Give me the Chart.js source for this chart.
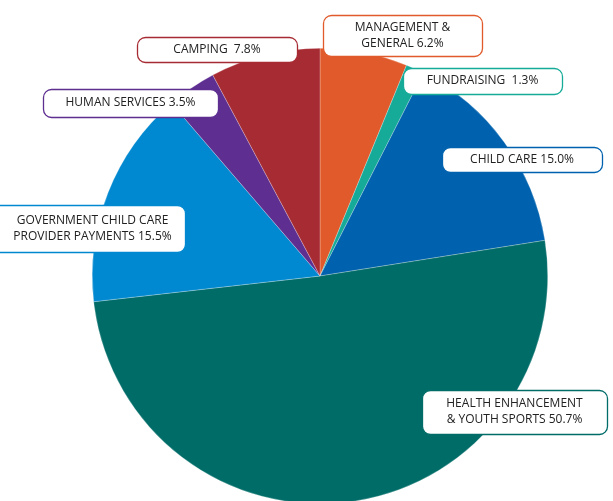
<!DOCTYPE html>
<html lang="en">
<head>
<meta charset="UTF-8">
<title>Expenses</title>
<script src="https://cdn.jsdelivr.net/npm/chart.js"></script>
<style>
  html, body { margin: 0; padding: 0; background: #fff; overflow: hidden; }
  #wrap { width: 613px; height: 504px; position: relative; }
</style>
</head>
<body>
<div id="wrap"><canvas id="pieChart"></canvas></div>
<script>
// slices, clockwise from 12 o'clock
const categories = [
  ["MANAGEMENT &", "GENERAL 6.2%"],
  ["FUNDRAISING  1.3%"],
  ["CHILD CARE 15.0%"],
  ["HEALTH ENHANCEMENT", "& YOUTH SPORTS 50.7%"],
  ["GOVERNMENT CHILD CARE", "PROVIDER PAYMENTS 15.5%"],
  ["HUMAN SERVICES 3.5%"],
  ["CAMPING  7.8%"]
];
const values = [6.2, 1.3, 15.0, 50.7, 15.5, 3.5, 7.8];
const colors = ["#E05A2B", "#16AB98", "#0062AE", "#006C68", "#0089D0", "#5E2E91", "#A72B33"];

// label boxes (left, top, width, height) in page pixels
const boxes = [
  [323, 15, 159, 41],
  [403, 68, 159, 26],
  [442, 147, 160, 25],
  [422, 390, 185, 44],
  [-12, 205, 197, 47],
  [43, 89, 175, 28],
  [137, 37, 160, 25]
];

const labelBoxes = {
  id: "labelBoxes",
  afterDraw(chart) {
    const ctx = chart.ctx;
    ctx.save();
    ctx.font = "12px 'Open Sans'";
    ctx.textAlign = "center";
    ctx.textBaseline = "middle";
    boxes.forEach((b, i) => {
      const [x, y, w, h] = b;
      ctx.beginPath();
      ctx.roundRect(x + 0.5, y + 0.5, w, h, 8);
      ctx.fillStyle = "#fff";
      ctx.fill();
      ctx.lineWidth = 1.3;
      ctx.strokeStyle = colors[i];
      ctx.stroke();
      ctx.fillStyle = "#222";
      const lines = categories[i];
      const lh = 16;
      const cx = x + w / 2 + (x < 0 ? 6 : 0);
      const cy = y + h / 2 - (lines.length - 1) * lh / 2;
      lines.forEach((t, k) => ctx.fillText(t, cx, cy + k * lh));
    });
    ctx.restore();
  }
};

new Chart(document.getElementById("pieChart"), {
  type: "pie",
  data: {
    labels: categories.map(l => l.join(" ")),
    datasets: [{
      data: values,
      backgroundColor: colors,
      borderColor: "rgba(255,255,255,0.5)",
      borderWidth: 0.5
    }]
  },
  options: {
    responsive: true,
    maintainAspectRatio: false,
    animation: false,
    layout: { padding: { top: 48, bottom: 0, left: 92, right: 65 } },
    plugins: {
      legend: { display: false },
      tooltip: { enabled: false }
    }
  },
  plugins: [labelBoxes]
});
</script>
</body>
</html>
